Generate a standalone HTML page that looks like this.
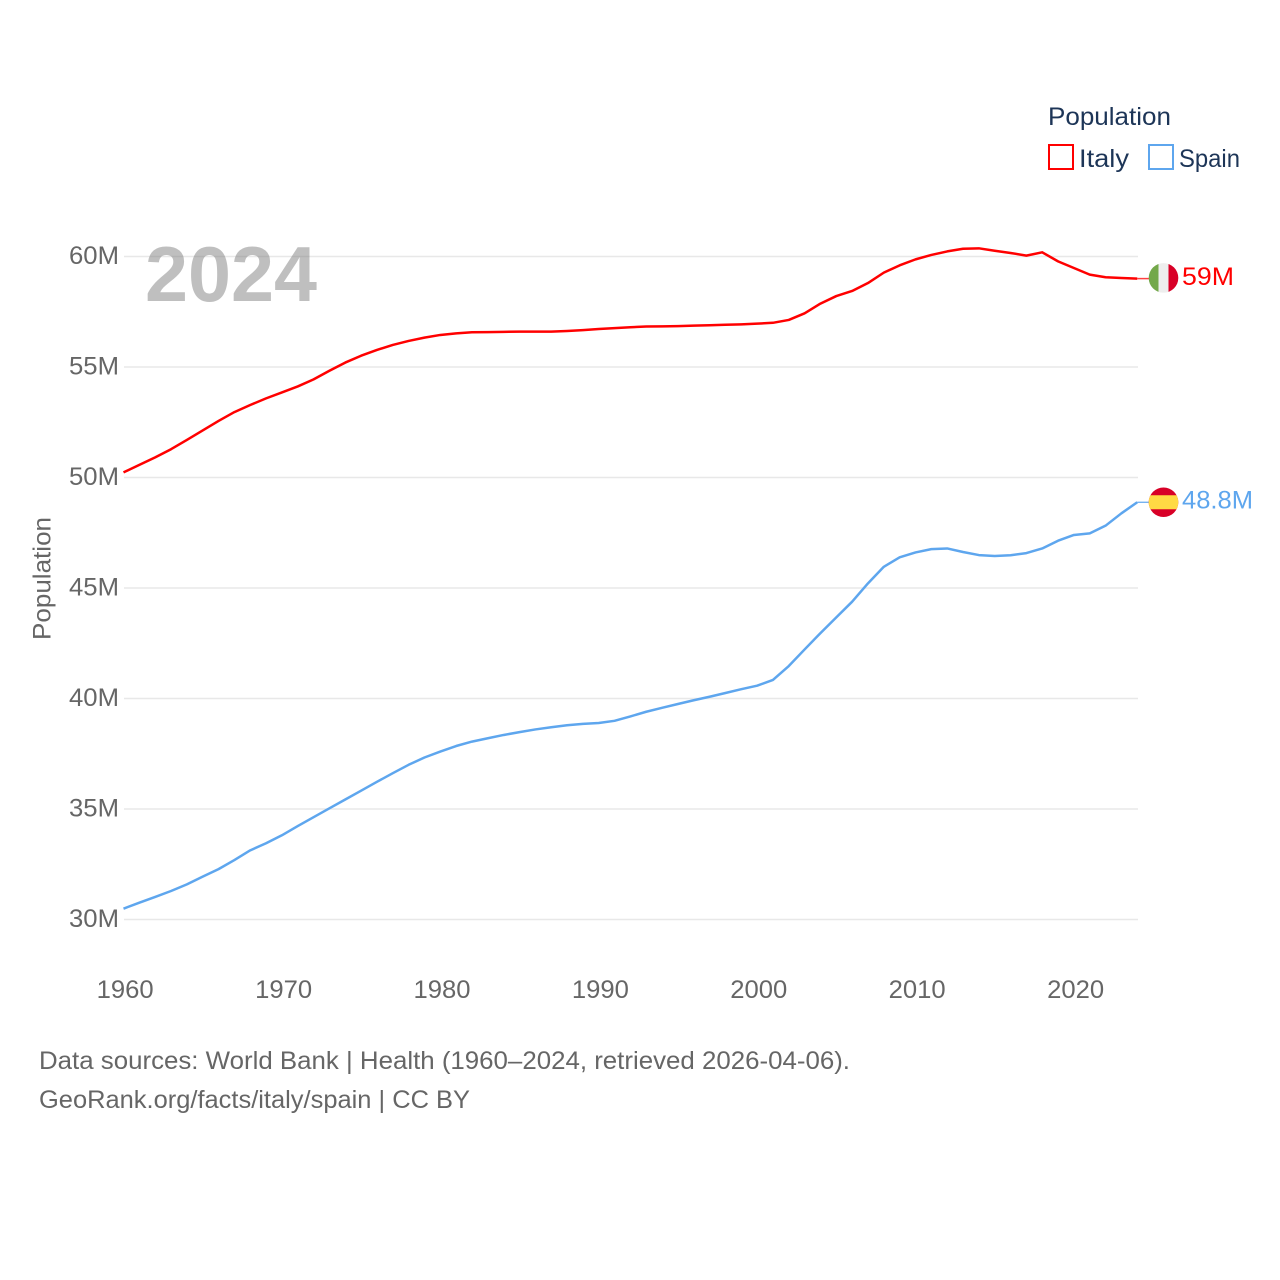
<!DOCTYPE html>
<html lang="en">
<head>
<meta charset="utf-8">
<title>Population: Italy and Spain</title>
<style>
html,body{margin:0;padding:0;background:#fff;width:1280px;height:1280px;overflow:hidden}
svg{display:block}
text{font-family:"Liberation Sans",sans-serif}
</style>
</head>
<body>
<svg id="chart" xmlns="http://www.w3.org/2000/svg" width="1280" height="1280" viewBox="0 0 1280 1280">
  <defs>
    <clipPath id="flag-clip-italy"><circle id="clip-italy" r="14.8"></circle></clipPath>
    <clipPath id="flag-clip-spain"><circle id="clip-spain" r="14.8"></circle></clipPath>
  </defs>
  <g id="grid"></g>
  <g id="y-ticks"></g>
  <g id="x-ticks"></g>
  <text transform="translate(50.5,578.5) rotate(-90)" text-anchor="middle" font-size="25" fill="#666" textLength="123" lengthAdjust="spacingAndGlyphs">Population</text>
  <text x="145" y="301" font-size="78" font-weight="700" fill="#7a7a7a" fill-opacity="0.48" textLength="172" lengthAdjust="spacingAndGlyphs">2024</text>
  <g id="series"></g>
  <g id="end-markers"></g>
  <g>
    <text x="1048" y="125" font-size="25" fill="#1d3557" textLength="123" lengthAdjust="spacingAndGlyphs">Population</text>
    <g>
      <rect x="1049" y="145" width="24" height="24" fill="#fff" stroke="#ff0000" stroke-width="2"></rect>
      <text x="1079" y="167" font-size="25" fill="#1d3557" textLength="50" lengthAdjust="spacingAndGlyphs">Italy</text>
    </g>
    <g>
      <rect x="1149" y="145" width="24" height="24" fill="#fff" stroke="#5ea6ee" stroke-width="2"></rect>
      <text x="1179" y="167" font-size="25" fill="#1d3557" textLength="61" lengthAdjust="spacingAndGlyphs">Spain</text>
    </g>
  </g>
  <text x="39" y="1069" font-size="25" fill="#666" textLength="811" lengthAdjust="spacingAndGlyphs">Data sources: World Bank | Health (1960–2024, retrieved 2026-04-06).</text>
  <text x="39" y="1108" font-size="25" fill="#666" textLength="431" lengthAdjust="spacingAndGlyphs">GeoRank.org/facts/italy/spain | CC BY</text>
</svg>
<script>
const startYear = 1960;
const xTickYears = [1960, 1970, 1980, 1990, 2000, 2010, 2020];
const yTickValues = [30, 35, 40, 45, 50, 55, 60];
const italyValues = [50.23,50.57,50.91,51.28,51.7,52.13,52.56,52.96,53.28,53.58,53.85,54.12,54.44,54.83,55.2,55.51,55.77,56.0,56.18,56.33,56.45,56.52,56.57,56.58,56.59,56.6,56.6,56.6,56.63,56.67,56.72,56.76,56.8,56.83,56.84,56.85,56.87,56.89,56.91,56.93,56.96,57.0,57.13,57.43,57.87,58.21,58.44,58.8,59.27,59.6,59.87,60.07,60.23,60.35,60.37,60.26,60.16,60.04,60.19,59.78,59.48,59.18,59.06,59.03,59.0];
const spainValues = [30.49,30.76,31.02,31.29,31.59,31.94,32.28,32.69,33.13,33.45,33.81,34.23,34.63,35.03,35.43,35.83,36.23,36.62,37.0,37.33,37.6,37.85,38.05,38.2,38.35,38.48,38.6,38.7,38.79,38.85,38.89,38.99,39.19,39.4,39.58,39.75,39.92,40.08,40.25,40.42,40.58,40.84,41.47,42.22,42.96,43.67,44.38,45.21,45.96,46.39,46.61,46.76,46.79,46.63,46.49,46.45,46.48,46.58,46.79,47.14,47.4,47.47,47.82,48.38,48.88];
const italyEndLabel = '59M';
const spainEndLabel = '48.8M';

const NS = 'http://www.w3.org/2000/svg';
const xScale = year => 123.5 + (year - 1960) * 15.84;
const yScale = value => 919.5 - (value - 30) * 22.1;
function make(tag, parent, attrs, text) {
  const el = document.createElementNS(NS, tag);
  for (const k in attrs) el.setAttribute(k, attrs[k]);
  if (text !== undefined) el.textContent = text;
  parent.appendChild(el);
  return el;
}
const grid = document.getElementById('grid');
const yTicks = document.getElementById('y-ticks');
const xTicks = document.getElementById('x-ticks');
const seriesGroup = document.getElementById('series');
const markers = document.getElementById('end-markers');

yTickValues.forEach(v => {
  const line = make('line', grid, {x1: 124, x2: 1138, y1: yScale(v), y2: yScale(v), stroke: '#e8e8e8', 'stroke-width': 1.5});
  
  
  const label = make('text', yTicks, {x: 119, y: yScale(v) + 7.5, 'text-anchor': 'end', 'font-size': 25, fill: '#666', textLength: 50, lengthAdjust: 'spacingAndGlyphs'}, v + 'M');
  
  
});
xTickYears.forEach(y => {
  const label = make('text', xTicks, {x: xScale(y) + 1.7, y: 998, 'text-anchor': 'middle', 'font-size': 25, fill: '#666', textLength: 57, lengthAdjust: 'spacingAndGlyphs'}, String(y));
  
  
});

function linePath(values) {
  return values.map((v, i) => (i ? 'L' : 'M') + xScale(startYear + i).toFixed(2) + ' ' + yScale(v).toFixed(2)).join(' ');
}
const italyLine = make('path', seriesGroup, {d: linePath(italyValues), fill: 'none', stroke: '#ff0000', 'stroke-width': 2.5, 'stroke-linejoin': 'round'});


const spainLine = make('path', seriesGroup, {d: linePath(spainValues), fill: 'none', stroke: '#5ea6ee', 'stroke-width': 2.5, 'stroke-linejoin': 'round'});



const flagX = 1163.5;
const lastX = xScale(startYear + italyValues.length - 1);
const italyY = yScale(italyValues[italyValues.length - 1]);
const spainY = yScale(spainValues[spainValues.length - 1]);
const italyFlagY = italyY - 0.7;
const spainFlagY = spainY;

const italyConnector = make('line', markers, {x1: lastX, x2: flagX - 14, y1: italyY, y2: italyY, stroke: '#ff0000', 'stroke-width': 1.5, 'stroke-opacity': 0.75});


const spainConnector = make('line', markers, {x1: lastX, x2: flagX - 14, y1: spainY, y2: spainY, stroke: '#5ea6ee', 'stroke-width': 1.2});



document.getElementById('clip-italy').setAttribute('cx', flagX);
document.getElementById('clip-italy').setAttribute('cy', italyFlagY);
document.getElementById('clip-spain').setAttribute('cx', flagX);
document.getElementById('clip-spain').setAttribute('cy', spainFlagY);

const italyFlag = make('g', markers, {'clip-path': 'url(#flag-clip-italy)'});


make('rect', italyFlag, {x: flagX - 15, y: italyFlagY - 15, width: 10, height: 30, fill: '#73a84a'});
make('rect', italyFlag, {x: flagX - 5, y: italyFlagY - 15, width: 10, height: 30, fill: '#eeeeee'});
make('rect', italyFlag, {x: flagX + 5, y: italyFlagY - 15, width: 10, height: 30, fill: '#d80027'});

const spainFlag = make('g', markers, {'clip-path': 'url(#flag-clip-spain)'});


make('rect', spainFlag, {x: flagX - 15, y: spainFlagY - 15, width: 30, height: 30, fill: '#d80027'});
make('rect', spainFlag, {x: flagX - 15, y: spainFlagY - 7, width: 30, height: 14, fill: '#ffda44'});

const italyValueLabel = make('text', markers, {x: 1182, y: italyY + 6.3, 'font-size': 25, fill: '#ff0000', textLength: 52, lengthAdjust: 'spacingAndGlyphs'}, italyEndLabel);


const spainValueLabel = make('text', markers, {x: 1182, y: spainY + 6, 'font-size': 25, fill: '#5ea6ee', textLength: 71, lengthAdjust: 'spacingAndGlyphs'}, spainEndLabel);


</script>
</body>
</html>
